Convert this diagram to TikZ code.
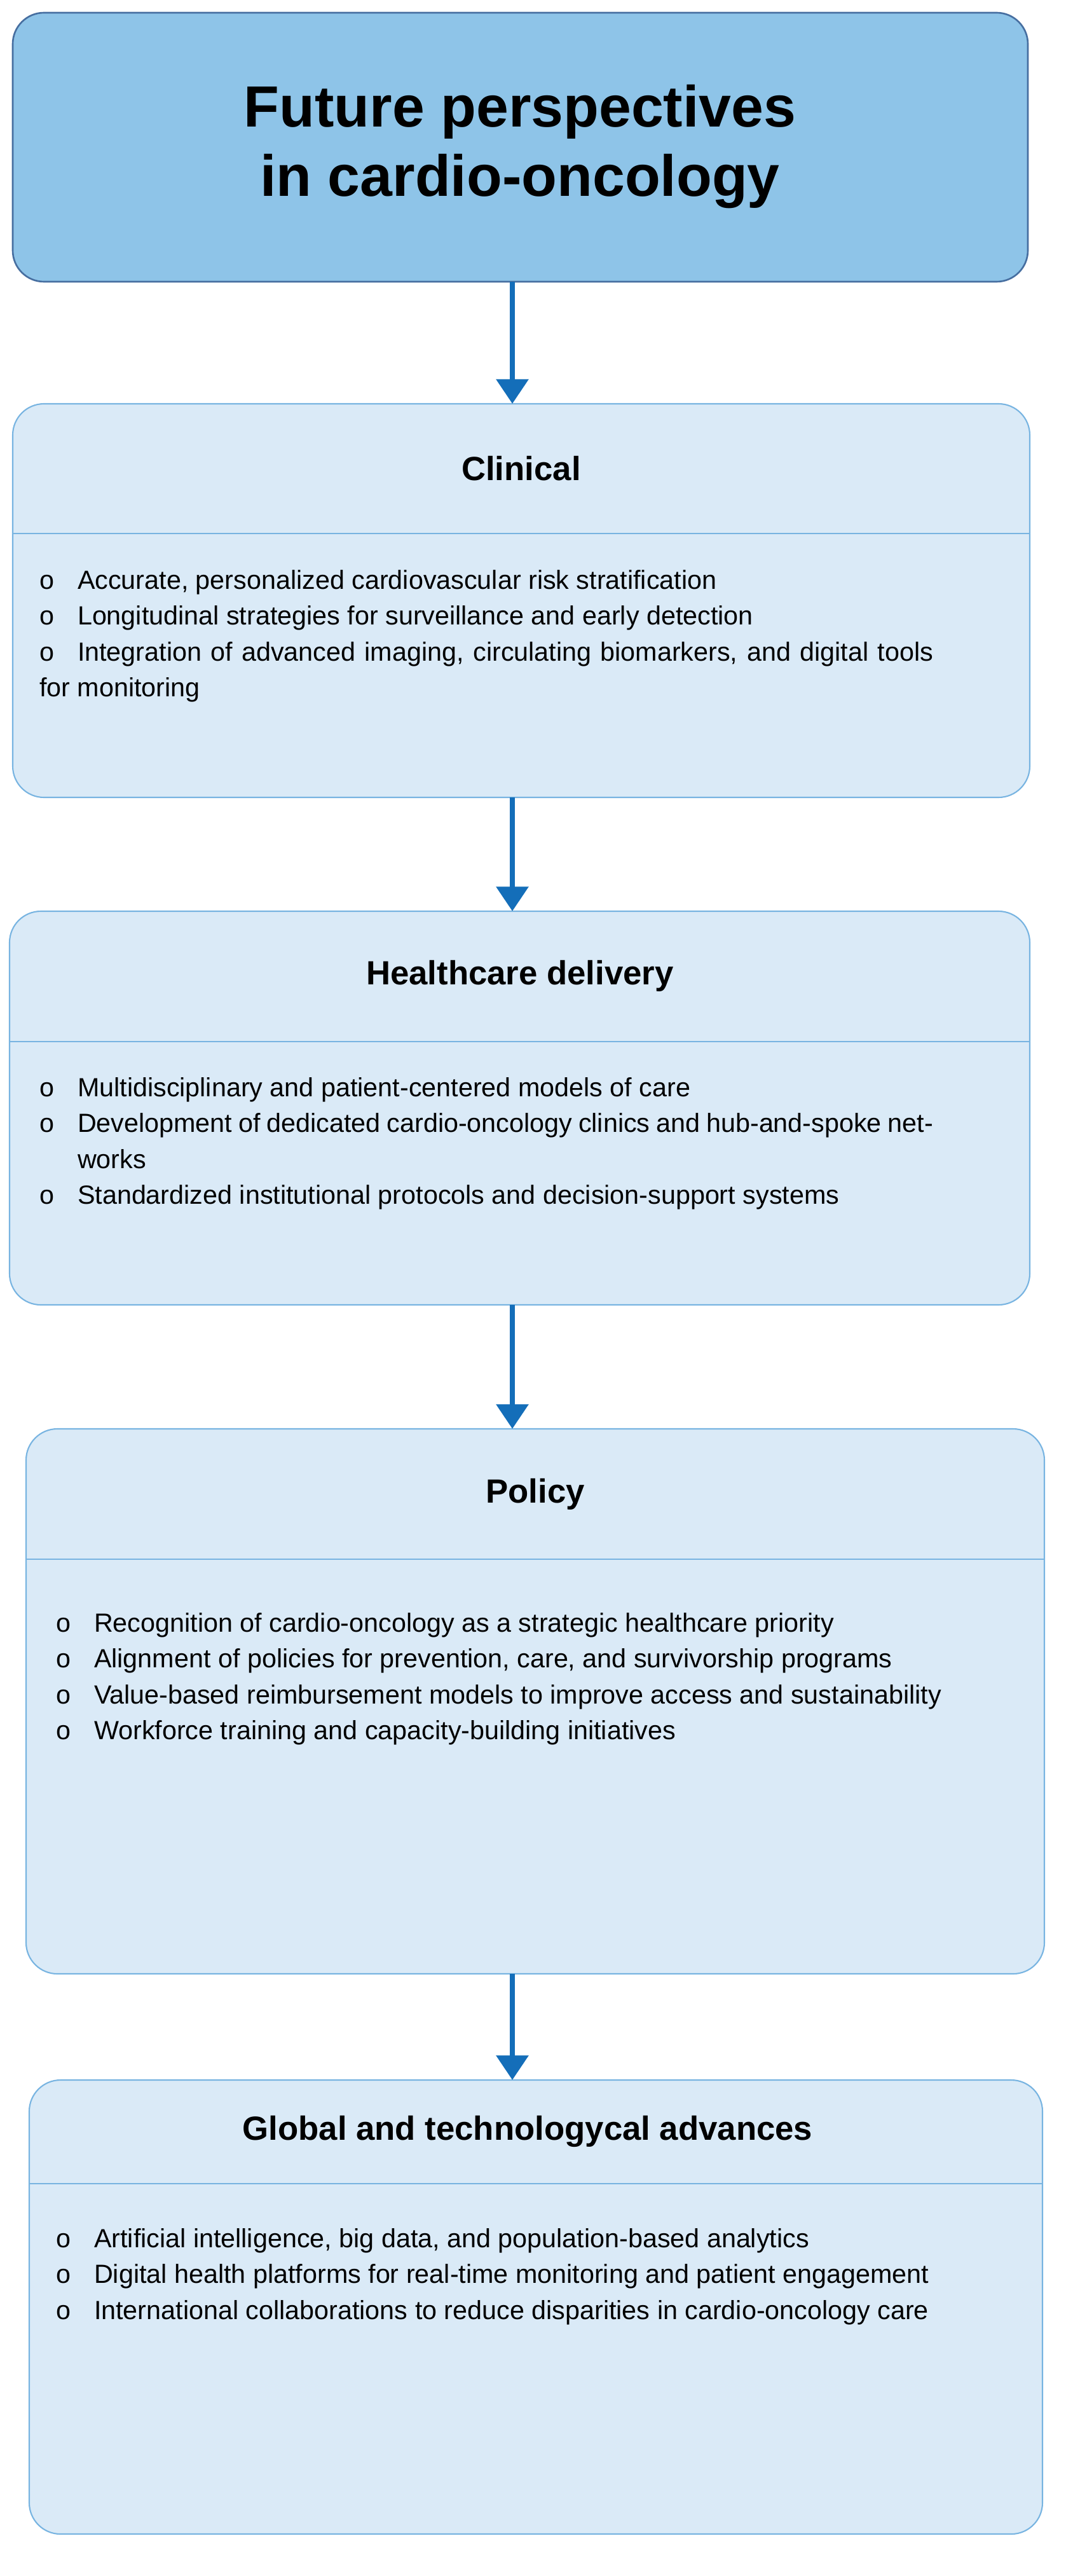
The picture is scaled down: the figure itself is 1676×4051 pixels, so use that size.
\documentclass[tikz,border=0pt]{standalone}
\usepackage{fontspec}
\setmainfont{Liberation Sans}
\usetikzlibrary{arrows.meta}
\definecolor{titlefill}{RGB}{142,196,232}
\definecolor{titledraw}{RGB}{70,110,160}
\definecolor{boxfill}{RGB}{218,234,247}
\definecolor{boxdraw}{RGB}{120,180,225}
\definecolor{arrowc}{RGB}{20,110,185}
\tikzset{
  titlebox/.style={draw=titledraw, fill=titlefill, line width=1.5pt, rounded corners=28pt},
  secbox/.style={draw=boxdraw, fill=boxfill, line width=1.2pt, rounded corners=28pt},
  sepline/.style={draw=boxdraw, line width=1.2pt},
  head/.style={font=\fontsize{30}{36}\selectfont\bfseries},
  body/.style={anchor=north west, text width=800pt, align=justify, inner sep=0pt, font=\fontsize{23.5}{32}\selectfont},
  flow/.style={draw=arrowc, line width=5pt, -{Triangle[length=22pt,width=28pt]}}
}
\newcommand{\bitem}{\par\noindent\hangindent=34pt\hangafter=1\makebox[34pt][l]{o}}
\begin{document}
\begin{tikzpicture}[x=0.2mm,y=-0.2mm]
\useasboundingbox (0,0) rectangle (1676,4051);
% title
\draw[titlebox] (20,20) rectangle (1617,443);
\node[font=\fontsize{52}{62}\selectfont\bfseries, align=center] (title) at (818,231) {Future perspectives\\in cardio-oncology};
\coordinate (tb) at (806,443);
% clinical
\draw[secbox] (20,635) rectangle (1620,1254);
\draw[sepline] (20,839) -- (1620,839);
\coordinate (ct) at (806,635); \coordinate (cb) at (806,1254);
\node[head] (ch) at (820,737) {Clinical};
\node[body] (cbody) at (62,870) {\bitem Accurate, personalized cardiovascular risk stratification
\bitem Longitudinal strategies for surveillance and early detection
\bitem Integration of advanced imaging, circulating biomarkers, and digital tools for monitoring};
% healthcare
\draw[secbox] (15,1433) rectangle (1620,2052);
\draw[sepline] (15,1638) -- (1620,1638);
\coordinate (ht) at (806,1433); \coordinate (hb) at (806,2052);
\node[head] (hh) at (818,1535) {Healthcare delivery};
\node[body] (hbody) at (62,1668) {\bitem Multidisciplinary and patient-centered models of care
\bitem Development of dedicated cardio-oncology clinics and hub-and-spoke networks
\bitem Standardized institutional protocols and decision-support systems};
% policy
\draw[secbox] (41,2247) rectangle (1643,3104);
\draw[sepline] (41,2452) -- (1643,2452);
\coordinate (pt) at (806,2247); \coordinate (pb) at (806,3104);
\node[head] (ph) at (842,2350) {Policy};
\node[body] (pbody) at (88,2510) {\bitem Recognition of cardio-oncology as a strategic healthcare priority
\bitem Alignment of policies for prevention, care, and survivorship programs
\bitem Value-based reimbursement models to improve access and sustainability
\bitem Workforce training and capacity-building initiatives};
% global
\draw[secbox] (46,3271) rectangle (1640,3985);
\draw[sepline] (46,3434) -- (1640,3434);
\coordinate (gt) at (806,3271);
\node[head] (gh) at (830,3352) {Global and technologycal advances};
\node[body] (gbody) at (88,3478) {\bitem Artificial intelligence, big data, and population-based analytics
\bitem Digital health platforms for real-time monitoring and patient engagement
\bitem International collaborations to reduce disparities in cardio-oncology care};
% arrows
\draw[flow] (tb) -- (ct);
\draw[flow] (cb) -- (ht);
\draw[flow] (hb) -- (pt);
\draw[flow] (pb) -- (gt);
\end{tikzpicture}
\end{document}
